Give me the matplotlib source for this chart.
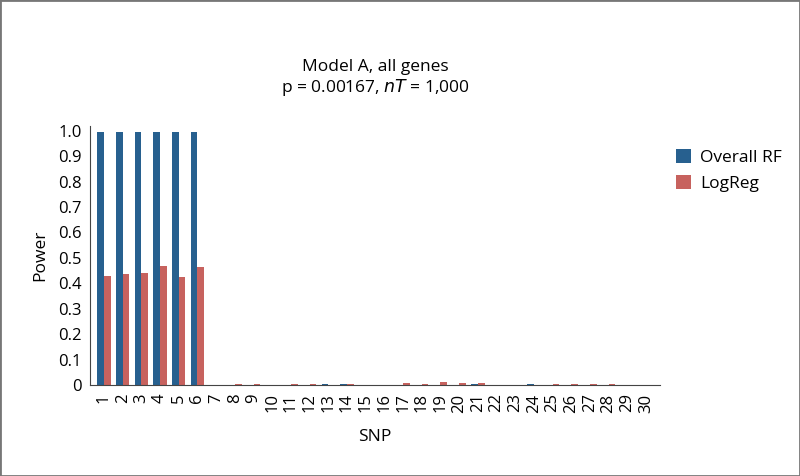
import numpy as np
import matplotlib.pyplot as plt
from matplotlib.patches import Rectangle

plt.rcParams['font.family'] = ['Open Sans', 'DejaVu Sans']

# SNP index and power for each method
snps = list(range(1, 31))
overall_rf = [0.995, 0.995, 0.995, 0.995, 0.995, 0.995, 0, 0, 0, 0,
              0, 0, 0.003, 0.005, 0, 0, 0.001, 0, 0, 0,
              0.006, 0, 0, 0.006, 0.001, 0, 0, 0, 0, 0]
logreg = [0.43, 0.435, 0.44, 0.47, 0.425, 0.465, 0, 0.003, 0.003, 0.002,
          0.005, 0.005, 0, 0.005, 0, 0.002, 0.007, 0.004, 0.012, 0.01,
          0.007, 0, 0, 0, 0.003, 0.006, 0.005, 0.005, 0, 0]
yticks = [0, 0.1, 0.2, 0.3, 0.4, 0.5, 0.6, 0.7, 0.8, 0.9, 1.0]
ytick_labels = ['0', '0.1', '0.2', '0.3', '0.4', '0.5', '0.6', '0.7', '0.8', '0.9', '1.0']

blue = '#27608F'
red = '#C7625E'

fig = plt.figure(figsize=(8, 4.76), dpi=100)
ax = fig.add_axes([0.1125, 0.191, 0.7125, 0.545])

x = np.arange(len(snps))
w = 0.36
ax.bar(x - w / 2, overall_rf, w, color=blue, label='Overall RF')
ax.bar(x + w / 2, logreg, w, color=red, label='LogReg')

ax.set_xlim(-0.75, len(snps) - 0.25)
ax.set_ylim(0, 1.02)
ax.set_xticks(x)
ax.set_xticklabels([str(s) for s in snps], rotation=90, fontsize=12)
ax.set_yticks(yticks)
ax.set_yticklabels(ytick_labels, fontsize=12)
ax.tick_params(length=0, pad=6)
for s in ['top', 'right']:
    ax.spines[s].set_visible(False)
for s in ['left', 'bottom']:
    ax.spines[s].set_color('#444444')
    ax.spines[s].set_linewidth(0.8)

ax.set_xlabel('SNP', fontsize=12.5, labelpad=12)
ax.set_ylabel('Power', fontsize=12.5, labelpad=7)
ax.set_title('Model A, all genes\np = 0.00167, $\\mathit{nT}$ = 1,000',
             fontsize=12.5, pad=24, linespacing=1.15)

ax.legend(loc='upper left', bbox_to_anchor=(1.0, 0.97), frameon=False,
          fontsize=12.5, handlelength=0.9, handleheight=0.9, labelspacing=0.5,
          handletextpad=0.5)

# grey frame around the whole figure
fig.patches.append(Rectangle((0, 0), 1, 1, transform=fig.transFigure,
                             fill=False, edgecolor='#777777', linewidth=2))

fig.savefig('out.png', dpi=100)
